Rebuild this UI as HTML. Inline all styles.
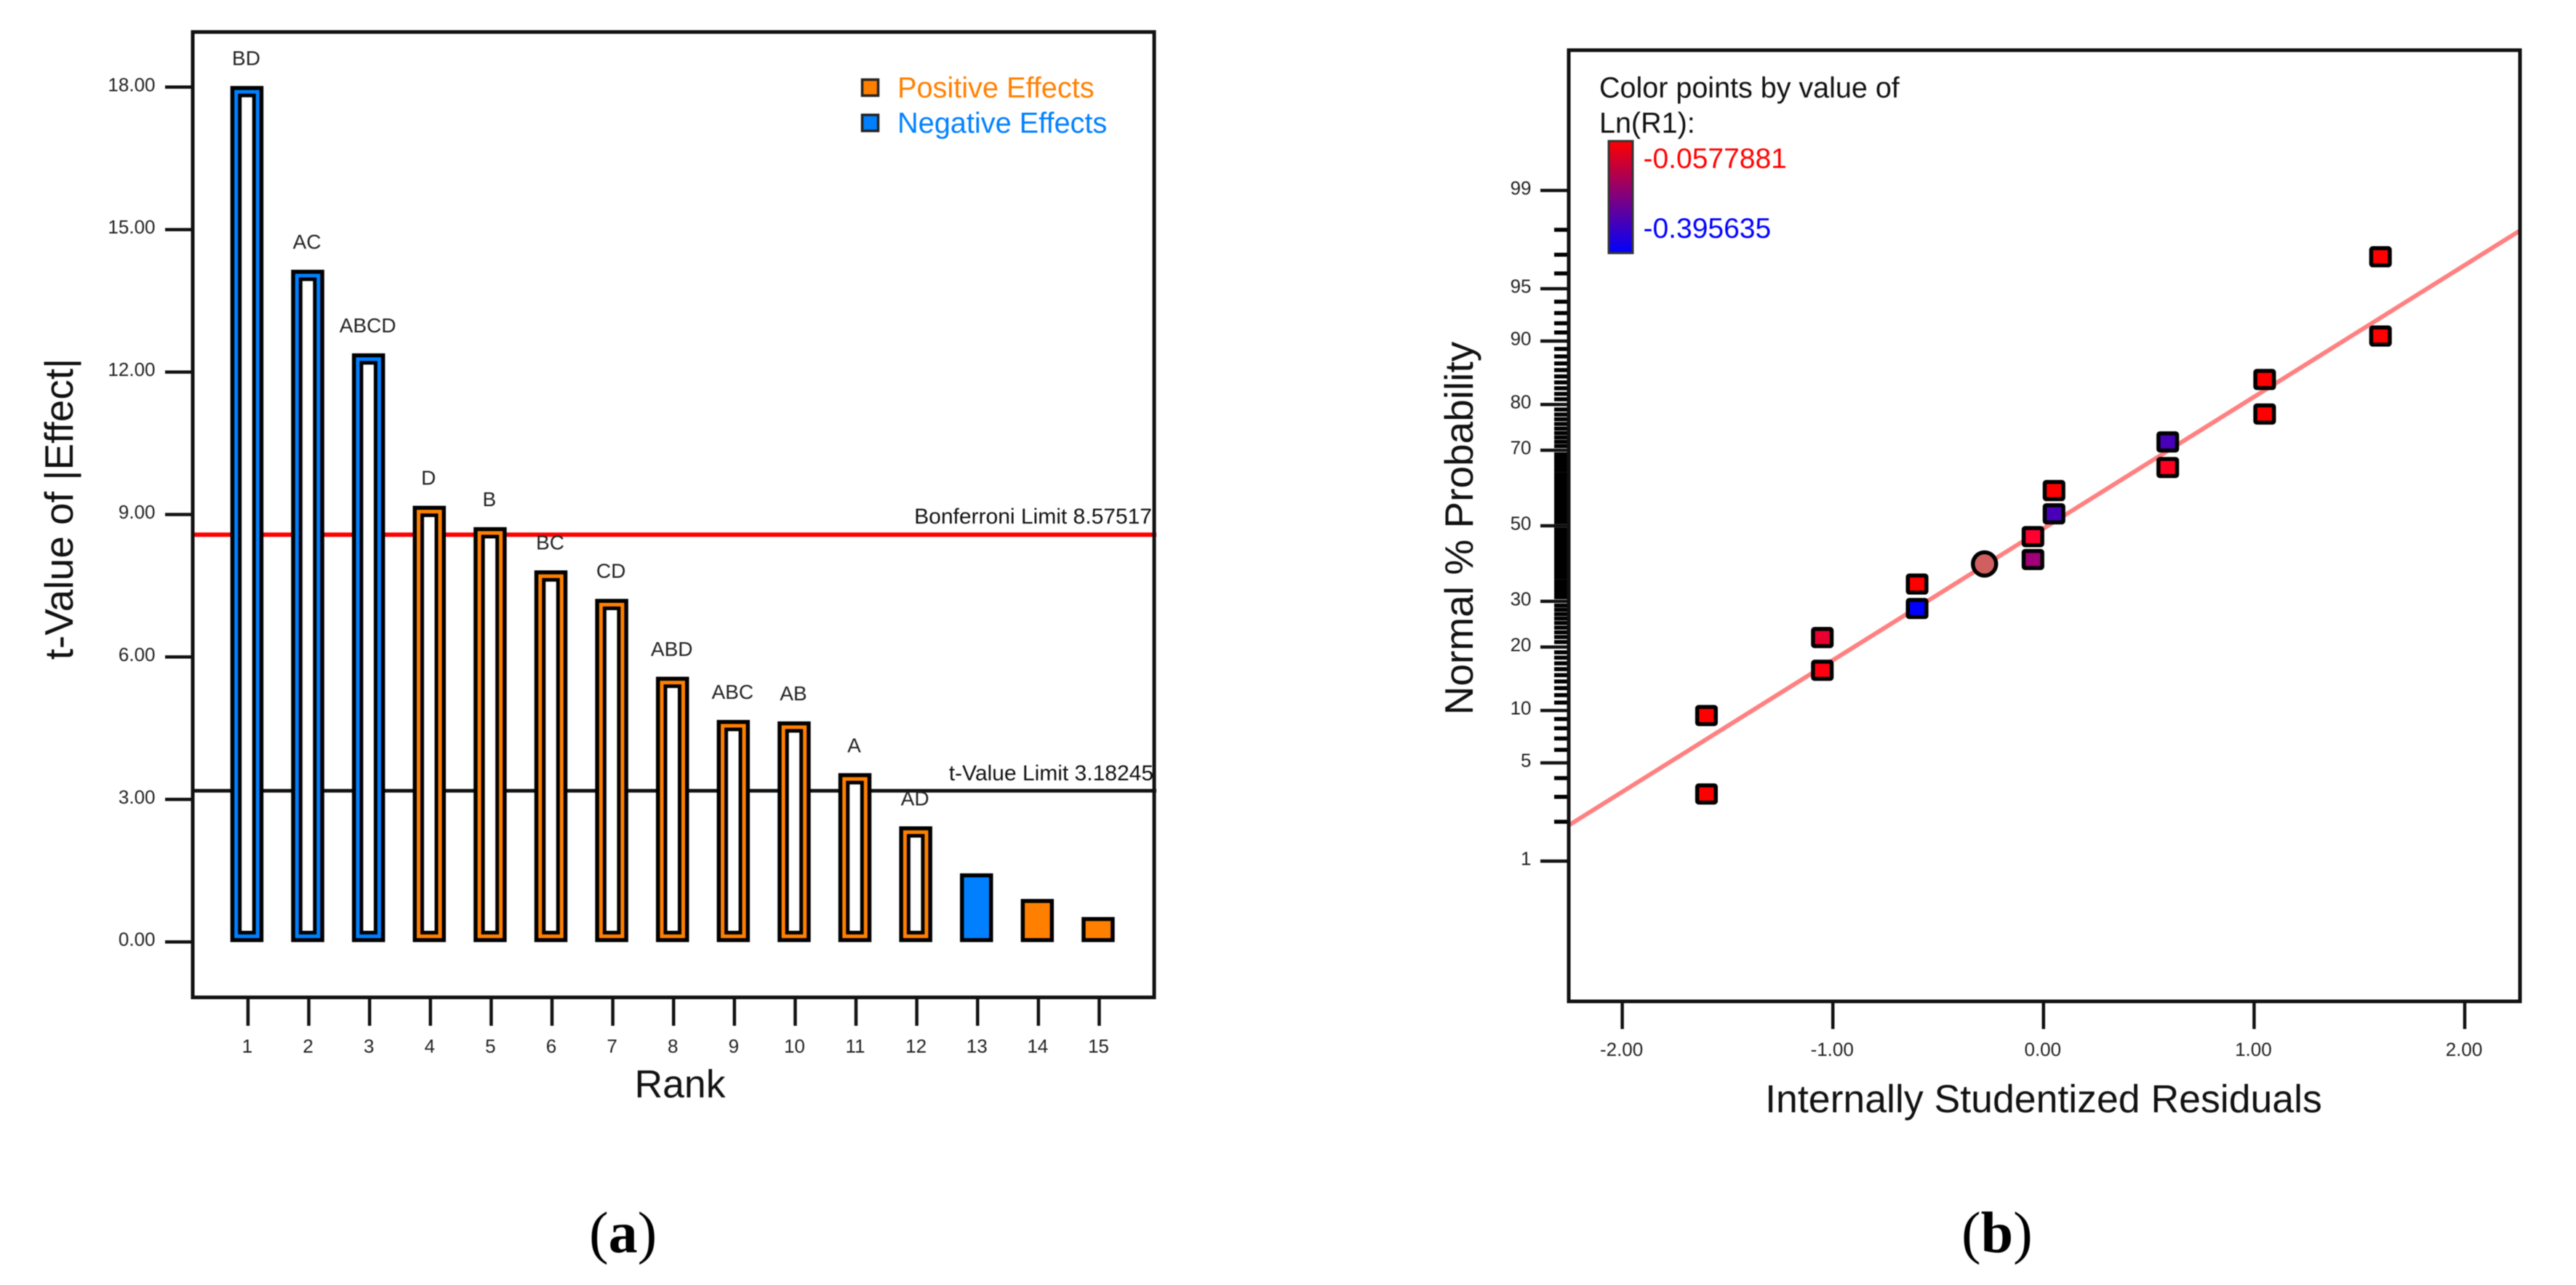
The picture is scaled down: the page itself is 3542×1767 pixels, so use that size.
<!DOCTYPE html>
<html lang="en">
<head>
<meta charset="utf-8">
<title>Pareto chart and normal probability plot</title>
<style>
html,body{margin:0;padding:0;background:#fff;}
body{width:3542px;height:1767px;overflow:hidden;}
svg{display:block;font-family:"Liberation Sans",Arial,sans-serif;filter:blur(0.6px);}
</style>
</head>
<body>
<svg id="figure" xmlns="http://www.w3.org/2000/svg" width="3542" height="1767" viewBox="0 0 3542 1767">
  <defs>
    <linearGradient id="colorbar-gradient" x1="0" y1="0" x2="0" y2="1">
      <stop offset="0" stop-color="#ff0000"/>
      <stop offset="1" stop-color="#0000ff"/>
    </linearGradient>
  </defs>
  <rect x="0" y="0" width="3542" height="1767" fill="#ffffff"/>

  <g id="panel-a">
    <g id="a-limits"></g>
    <g id="a-bars"></g>
    <g id="a-bar-labels" font-size="28" fill="#222" text-anchor="middle"></g>
    <rect x="265" y="44" width="1322" height="1327.5" fill="none" stroke="#111" stroke-width="5"/>
    <g id="a-y-ticks"></g>
    <g id="a-x-ticks"></g>
    <text transform="translate(100 700) rotate(-90)" font-size="55" text-anchor="middle" fill="#111">t-Value of |Effect|</text>
    <text x="935" y="1509" font-size="53.5" text-anchor="middle" fill="#111">Rank</text>
    <text x="1584" y="720" font-size="30" text-anchor="end" fill="#111">Bonferroni Limit 8.57517</text>
    <text x="1586" y="1073" font-size="30" text-anchor="end" fill="#111">t-Value Limit 3.18245</text>
    <g>
      <rect x="1185.5" y="109.5" width="22" height="22" fill="#ff8000" stroke="#222" stroke-width="3.5"/>
      <text x="1234" y="134" font-size="39.7" fill="#ff8000">Positive Effects</text>
      <rect x="1185.5" y="158" width="22" height="22" fill="#0080ff" stroke="#222" stroke-width="3.5"/>
      <text x="1234" y="182.6" font-size="39.7" fill="#0080ff">Negative Effects</text>
    </g>
    <text x="810" y="1722" font-family="'Liberation Serif',serif" font-size="80" fill="#000">(<tspan font-weight="bold">a</tspan>)</text>
  </g>

  <g id="panel-b">
    <g id="b-y-ticks"></g>
    <g id="b-x-ticks"></g>
    <g id="b-fit"></g>
    <rect x="2157" y="69" width="1308" height="1308" fill="none" stroke="#111" stroke-width="5"/>
    <g id="b-points"></g>
    <text transform="translate(2025 726.5) rotate(-90)" font-size="55" text-anchor="middle" fill="#111">Normal % Probability</text>
    <text x="2810" y="1529.5" font-size="53.6" text-anchor="middle" fill="#111">Internally Studentized Residuals</text>
    <g>
      <text x="2199" y="134" font-size="39.5" fill="#111">Color points by value of</text>
      <text x="2199" y="182.6" font-size="39.5" fill="#111">Ln(R1):</text>
      <rect x="2212" y="194" width="33" height="154" fill="url(#colorbar-gradient)" stroke="#333" stroke-width="3"/>
      <text x="2259.5" y="231" font-size="39" fill="#ff0000">-0.0577881</text>
      <text x="2259.5" y="327" font-size="39" fill="#0000ff">-0.395635</text>
    </g>
    <text x="2697" y="1722" font-family="'Liberation Serif',serif" font-size="80" fill="#000">(<tspan font-weight="bold">b</tspan>)</text>
  </g>
</svg>

<script>
// ---- Panel (a) data ----
const ranks = [1, 2, 3, 4, 5, 6, 7, 8, 9, 10, 11, 12, 13, 14, 15];
const effectValues = [18.02, 14.15, 12.39, 9.18, 8.73, 7.82, 7.22, 5.58, 4.67, 4.64, 3.55, 2.43, 1.44, 0.90, 0.52];
const effectTerms = ['BD', 'AC', 'ABCD', 'D', 'B', 'BC', 'CD', 'ABD', 'ABC', 'AB', 'A', 'AD', '', '', ''];
const effectSigns = ['neg', 'neg', 'neg', 'pos', 'pos', 'pos', 'pos', 'pos', 'pos', 'pos', 'pos', 'pos', 'neg', 'pos', 'pos'];
const effectTickValues = [0, 3, 6, 9, 12, 15, 18];
const effectTickLabels = ['0.00', '3.00', '6.00', '9.00', '12.00', '15.00', '18.00'];
const bonferroniLimit = 8.57517;
const tValueLimit = 3.18245;

// ---- Panel (b) data ----
const residuals = [-1.60, -1.60, -1.05, -1.05, -0.60, -0.60, -0.05, -0.05, 0.05, 0.05, 0.59, 0.59, 1.05, 1.05, 1.60, 1.60];
const probabilities = [9.4, 3.14, 21.9, 15.8, 28.3, 34.3, 47.0, 40.75, 59.66, 53.3, 71.96, 65.7, 84.5, 78.1, 96.9, 90.6];
const pointColors = ['#ff0000', '#ff0000', '#e80030', '#ff0010', '#0000ff', '#ff0000', '#ff0030', '#a00078', '#ff0000', '#4800b8', '#4800b8', '#ff0020', '#ff0000', '#ff0000', '#ff0000', '#ff0000'];
const centerResidual = [-0.28];
const centerProbability = [39.55];
const fitResiduals = [-2.254, 2.262];
const fitProbabilities = [1.885, 97.97];
const residualTickValues = [-2, -1, 0, 1, 2];
const residualTickLabels = ['-2.00', '-1.00', '0.00', '1.00', '2.00'];
const probabilityMajorTicks = [1, 5, 10, 20, 30, 50, 70, 80, 90, 95, 99];
const probabilityMinorTicks = [2, 3, 4, 6, 7, 8, 9, 11, 12, 13, 14, 15, 16, 17, 18, 19, 21, 22, 23, 24, 25, 26, 27, 28, 29, 31, 32, 33, 34, 35, 36, 37, 38, 39, 40, 41, 42, 43, 44, 45, 46, 47, 48, 49, 51, 52, 53, 54, 55, 56, 57, 58, 59, 60, 61, 62, 63, 64, 65, 66, 67, 68, 69, 71, 72, 73, 74, 75, 76, 77, 78, 79, 81, 82, 83, 84, 85, 86, 87, 88, 89, 91, 92, 93, 94, 96, 97, 98];

// ---- Axis functions ----
function xRank(r) { return 341 + 83.6 * (r - 1); }
function yEffect(v) { return 1295.2 - 65.3 * v; }
function xResidual(v) { return 2809.8 + 289.6 * v; }
function probit(pct) {
  const p = pct / 100;
  const a = [-39.69683028665376, 220.9460984245205, -275.9285104469687, 138.357751867269, -30.66479806614716, 2.506628277459239];
  const b = [-54.47609879822406, 161.5858368580409, -155.6989798598866, 66.80131188771972, -13.28068155288572];
  const c = [-0.007784894002430293, -0.3223964580411365, -2.400758277161838, -2.549732539343734, 4.374664141464968, 2.938163982698783];
  const d = [0.007784695709041462, 0.3224671290700398, 2.445134137142996, 3.754408661907416];
  if (p < 0.02425) {
    const q = Math.sqrt(-2 * Math.log(p));
    return (((((c[0]*q+c[1])*q+c[2])*q+c[3])*q+c[4])*q+c[5]) / ((((d[0]*q+d[1])*q+d[2])*q+d[3])*q+1);
  }
  if (p > 0.97575) {
    const q = Math.sqrt(-2 * Math.log(1 - p));
    return -(((((c[0]*q+c[1])*q+c[2])*q+c[3])*q+c[4])*q+c[5]) / ((((d[0]*q+d[1])*q+d[2])*q+d[3])*q+1);
  }
  const q = p - 0.5;
  const r = q * q;
  return (((((a[0]*r+a[1])*r+a[2])*r+a[3])*r+a[4])*r+a[5]) * q / (((((b[0]*r+b[1])*r+b[2])*r+b[3])*r+b[4])*r+1);
}
function yProbability(p) { return 723 - 198.2 * probit(p); }

const NS = 'http://www.w3.org/2000/svg';
function make(tag, attrs, parent) {
  const el = document.createElementNS(NS, tag);
  for (const k in attrs) el.setAttribute(k, attrs[k]);
  parent.appendChild(el);
  return el;
}
const barColors = { pos: '#ff8000', neg: '#0080ff' };

// ---- Panel (a) drawing ----
const limitGroup = document.getElementById('a-limits');
const redLine = make('line', { x1: 263, x2: 1590, y1: yEffect(bonferroniLimit), y2: yEffect(bonferroniLimit), stroke: '#ff0000', 'stroke-width': 6 }, limitGroup);


const blackLine = make('line', { x1: 263, x2: 1590, y1: yEffect(tValueLimit), y2: yEffect(tValueLimit), stroke: '#111', 'stroke-width': 5 }, limitGroup);



const barGroup = document.getElementById('a-bars');
const barLabelGroup = document.getElementById('a-bar-labels');
ranks.forEach(function (r, i) {
  const cx = xRank(r) - 1.5;
  const top = yEffect(effectValues[i]);
  const base = yEffect(0);
  const bar = make('rect', { x: cx - 20, y: top + 2.5, width: 40, height: base - top - 5, fill: barColors[effectSigns[i]], stroke: '#000', 'stroke-width': 5.5 }, barGroup);
  
  
  if (effectTerms[i]) {
    const inner = make('rect', { x: cx - 9.75, y: top + 12.75, width: 19.5, height: base - top - 25.5, fill: '#ffffff', stroke: '#000', 'stroke-width': 5 }, barGroup);
    
    
    const label = make('text', { x: cx - 1, y: top - 29 }, barLabelGroup);
    
    
    label.textContent = effectTerms[i];
  }
});

const aY = document.getElementById('a-y-ticks');
effectTickValues.forEach(function (v, i) {
  const y = yEffect(v);
  const tick = make('line', { x1: 227, x2: 265, y1: y, y2: y, stroke: '#111', 'stroke-width': 4.5 }, aY);
  
  
  const label = make('text', { x: 213.5, y: y + 5.5, 'font-size': 26, 'text-anchor': 'end', fill: '#222' }, aY);
  
  
  label.textContent = effectTickLabels[i];
});

const aX = document.getElementById('a-x-ticks');
ranks.forEach(function (r) {
  const x = xRank(r);
  const tick = make('line', { x1: x, x2: x, y1: 1371, y2: 1410.5, stroke: '#111', 'stroke-width': 4.5 }, aX);
  
  
  const label = make('text', { x: x - 1, y: 1447.5, 'font-size': 26, 'text-anchor': 'middle', fill: '#222' }, aX);
  
  
  label.textContent = String(r);
});

// ---- Panel (b) drawing ----
const bY = document.getElementById('b-y-ticks');
probabilityMinorTicks.forEach(function (p) {
  const y = yProbability(p);
  const tick = make('line', { x1: 2137, x2: 2157, y1: y, y2: y, stroke: '#000', 'stroke-width': 5.5 }, bY);
  
  
});
probabilityMajorTicks.forEach(function (p) {
  const y = yProbability(p);
  const tick = make('line', { x1: 2118, x2: 2157, y1: y, y2: y, stroke: '#111', 'stroke-width': 4.5 }, bY);
  
  
  const label = make('text', { x: 2105.5, y: y + 5.5, 'font-size': 26, 'text-anchor': 'end', fill: '#222' }, bY);
  
  
  label.textContent = String(p);
});

const bX = document.getElementById('b-x-ticks');
residualTickValues.forEach(function (v, i) {
  const x = xResidual(v);
  const tick = make('line', { x1: x, x2: x, y1: 1377, y2: 1415, stroke: '#111', 'stroke-width': 4.5 }, bX);
  
  
  const label = make('text', { x: x - 1, y: 1452, 'font-size': 26, 'text-anchor': 'middle', fill: '#222' }, bX);
  
  
  label.textContent = residualTickLabels[i];
});

const fitGroup = document.getElementById('b-fit');
const fitLine = make('line', { x1: xResidual(fitResiduals[0]), y1: yProbability(fitProbabilities[0]), x2: xResidual(fitResiduals[1]), y2: yProbability(fitProbabilities[1]), stroke: '#ff8080', 'stroke-width': 6 }, fitGroup);



const pointGroup = document.getElementById('b-points');
residuals.forEach(function (v, i) {
  const point = make('rect', { x: xResidual(v) - 12.8, y: yProbability(probabilities[i]) - 11.8, width: 25.6, height: 23.6, rx: 2, fill: pointColors[i], stroke: '#000', 'stroke-width': 5.5 }, pointGroup);
  
  
});
centerResidual.forEach(function (v, i) {
  const center = make('circle', { cx: xResidual(v), cy: yProbability(centerProbability[i]), r: 16, fill: '#d06060', stroke: '#000', 'stroke-width': 5.5 }, pointGroup);
  
  
});
</script>
</body>
</html>
